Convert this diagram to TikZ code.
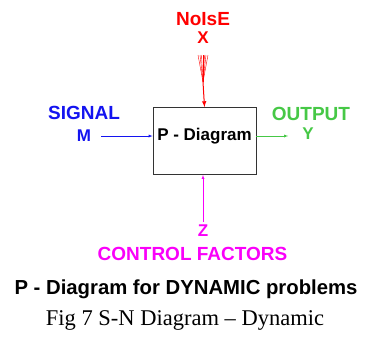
\documentclass[tikz,border=0pt]{standalone}
\usepackage{fontspec}
\setmainfont{Liberation Serif}
\setsansfont{Liberation Sans}
\usetikzlibrary{calc}

\definecolor{sigblue}{RGB}{20,20,240}
\definecolor{outgreen}{RGB}{70,200,70}
\definecolor{ctrlmag}{RGB}{250,0,250}

\tikzset{
  lbl/.style={font=\sffamily\bfseries\fontsize{19}{19}\selectfont, inner sep=0pt},
  sym/.style={font=\sffamily\bfseries\fontsize{17}{17}\selectfont, inner sep=0pt},
}

\begin{document}
\begin{tikzpicture}[>=latex, x=1pt, y=-1pt]
  \useasboundingbox (0,0) rectangle (371,343);
  % The P-diagram block in the middle.
  \node[draw=black!80, line width=0.8pt, minimum width=103pt, minimum height=67pt,
        inner sep=0pt] (box) at (204.5,141) {};
  \node[font=\sffamily\bfseries\fontsize{17}{17}\selectfont, inner sep=0pt]
    (boxtxt) at (204.5,136) {P - Diagram};
  % Noise input from the top.
  \node[lbl, red] (noise) at (203,19) {NoIsE};
  \node[sym, red] (noisex) at (203,38) {X};
  \coordinate (fan) at (203,82);
  \foreach \dx in {-5,-3,-1.5,0,1.5,3,5}
    \draw[red, line width=0.4pt] ($(fan)+(\dx,-27)$) -- (fan);
  \draw[red, line width=1pt, ->] (fan) -- (box.north);
  % Signal input from the left.
  \node[lbl, sigblue] (signal) at (84,113) {SIGNAL};
  \node[sym, sigblue] (sigm) at (84,136) {M};
  \draw[sigblue, ->] (sigm.east) ++(10,0) coordinate (sigstart) -- (sigstart -| box.west);
  % Output on the right.
  \node[lbl, outgreen] (output) at (311,114) {OUTPUT};
  \node[sym, outgreen] (outy) at (308,134) {Y};
  \draw[outgreen, ->] (box.east |- outy) ++(0,2) -- ($(outy.west)+(-14,2)$);
  % Control factors from below.
  \node[sym, ctrlmag] (ctrlz) at (203,231) {Z};
  \node[lbl, ctrlmag] (control) at (192.5,253.5) {CONTROL FACTORS};
  \draw[ctrlmag, ->] (ctrlz.north) ++(0,-3) -- (box.south -| ctrlz);
  % Titles underneath.
  \node[font=\sffamily\bfseries\fontsize{20.3}{20.3}\selectfont, inner sep=0pt]
    (title) at (186,289) {P - Diagram for DYNAMIC problems};
  \node[font=\rmfamily\fontsize{22.5}{22.5}\selectfont, inner sep=0pt]
    (caption) at (185,320) {Fig 7 S-N Diagram – Dynamic};
\end{tikzpicture}
\end{document}
